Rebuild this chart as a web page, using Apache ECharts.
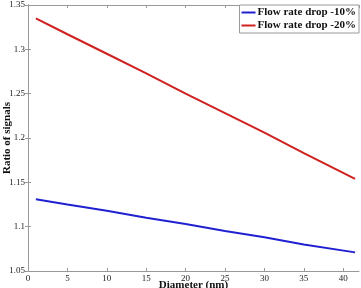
<!DOCTYPE html>
<html>
<head>
<meta charset="utf-8">
<script src="https://cdn.jsdelivr.net/npm/echarts@6/dist/echarts.min.js"></script>
<style>
html,body{margin:0;padding:0;background:#fff;}
#chart{width:361px;height:288px;}
</style>
</head>
<body>
<div id="chart"></div>
<script>
var diameters = [1, 5, 10, 15, 20, 25, 30, 35, 41.5];
var drop10 = [1.131, 1.125, 1.118, 1.110, 1.103, 1.095, 1.088, 1.080, 1.071];
var drop20 = [1.335, 1.317, 1.295, 1.273, 1.250, 1.228, 1.206, 1.183, 1.154];
var seriesNames = ['Flow rate drop -10%', 'Flow rate drop -20%'];

function pairs(xs, ys) {
    var out = [];
    for (var i = 0; i < xs.length; i++) out.push([xs[i], ys[i]]);
    return out;
}

var chart = echarts.init(document.getElementById('chart'));
var font = 'Liberation Serif';
var axisLine = {show: true, lineStyle: {color: '#999', width: 1}};
chart.setOption({
    animation: false,
    grid: {left: 28, right: 2, top: 5, bottom: 17, containLabel: false, outerBoundsMode: 'none'},
    legend: {
        data: seriesNames,
        orient: 'vertical',
        right: 2,
        top: 5,
        itemWidth: 14,
        itemHeight: 2,
        itemGap: 2,
        padding: [2, 3, 2, 2],
        borderColor: '#999',
        borderWidth: 1,
        backgroundColor: '#fff',
        icon: 'rect',
        textStyle: {fontFamily: font, fontWeight: 'bold', fontSize: 11, color: '#111', padding: [0, 0, 0, -3]}
    },
    xAxis: [{
        type: 'value', min: 0, max: 42, interval: 5,
        name: 'Diameter (nm)', nameLocation: 'middle', nameGap: 9, nameMoveOverlap: false,
        nameTextStyle: {fontFamily: font, fontWeight: 'bold', fontSize: 11, color: '#111'},
        axisLine: axisLine,
        axisTick: {show: true, inside: true, length: 3, lineStyle: {color: '#999'}},
        axisLabel: {fontFamily: font, fontSize: 9, color: '#222', margin: 3,
            showMaxLabel: false},
        splitLine: {show: false}
    }, {
        type: 'value', min: 0, max: 42, interval: 5, position: 'top',
        axisLine: axisLine,
        axisTick: {show: true, inside: true, length: 3, lineStyle: {color: '#999'}},
        axisLabel: {show: false}, splitLine: {show: false}
    }],
    yAxis: [{
        type: 'value', min: 1.05, max: 1.35, interval: 0.05,
        name: 'Ratio of signals', nameLocation: 'middle', nameGap: 15, nameMoveOverlap: false,
        nameTextStyle: {fontFamily: font, fontWeight: 'bold', fontSize: 11, color: '#111'},
        axisLine: axisLine,
        axisTick: {show: true, inside: true, length: 3, lineStyle: {color: '#999'}},
        axisLabel: {fontFamily: font, fontSize: 9, color: '#222', margin: 3,
            formatter: function (v) { return +v.toFixed(2) + ''; }},
        splitLine: {show: false}
    }, {
        type: 'value', min: 1.05, max: 1.35, interval: 0.05, position: 'right',
        axisLine: axisLine,
        axisTick: {show: true, inside: true, length: 3, lineStyle: {color: '#999'}},
        axisLabel: {show: false}, splitLine: {show: false}
    }],
    series: [{
        name: seriesNames[0], type: 'line', data: pairs(diameters, drop10),
        showSymbol: false, lineStyle: {color: '#2020d0', width: 2}, itemStyle: {color: '#2020d0'}
    }, {
        name: seriesNames[1], type: 'line', data: pairs(diameters, drop20),
        showSymbol: false, lineStyle: {color: '#d02020', width: 2}, itemStyle: {color: '#d02020'}
    }]
});
</script>
</body>
</html>
